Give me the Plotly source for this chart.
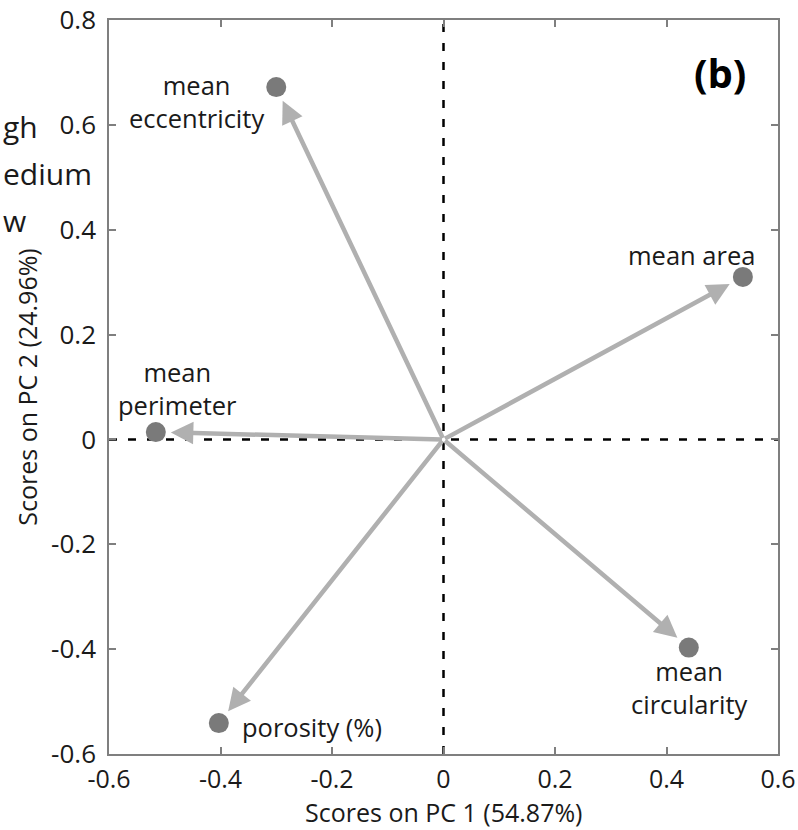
import plotly.graph_objects as go

# Loadings
variables = ["mean eccentricity", "mean area", "mean perimeter", "porosity (%)", "mean circularity"]
labels = ["mean<br>eccentricity", "mean area", "mean<br>perimeter", "porosity (%)", "mean<br>circularity"]
pc1 = [-0.300, 0.537, -0.516, -0.403, 0.440]
pc2 = [0.672, 0.310, 0.014, -0.541, -0.397]

x_ticks = [-0.6, -0.4, -0.2, 0, 0.2, 0.4, 0.6]
x_ticktext = ["-0.6", "-0.4", "-0.2", "0", "0.2", "0.4", "0.6"]
y_ticks = [-0.6, -0.4, -0.2, 0, 0.2, 0.4, 0.6, 0.8]
y_ticktext = ["-0.6", "-0.4", "-0.2", "0", "0.2", "0.4", "0.6", "0.8"]

x_title = "Scores on PC 1 (54.87%)"
y_title = "Scores on PC 2 (24.96%)"
cut_legend = ["gh", "edium", "w"]  # partially visible legend of neighbouring panel

FONT = "Open Sans"
TXT = "#1a1a1a"
AX = "#7f7f7f"
W, H = 798, 830
ML, MR, MT, MB = 109, 20, 20, 76
pw, ph = W - ML - MR, H - MT - MB

fig = go.Figure()

fig.add_hline(y=0, line=dict(color="black", width=2.5, dash="8px,11px"), layer="below")
fig.add_vline(x=0, line=dict(color="black", width=2.5, dash="8px,11px"), layer="below")

fig.add_trace(go.Scatter(
    x=pc1, y=pc2, mode="markers",
    marker=dict(size=20, color="#7a7a7a", line=dict(width=0)),
    hovertext=variables, showlegend=False,
))

# arrows from origin
for x, y in zip(pc1, pc2):
    fig.add_annotation(x=x, y=y, ax=0, ay=0, xref="x", yref="y", axref="x", ayref="y",
                       text="", showarrow=True, arrowhead=2, arrowsize=1.0,
                       arrowwidth=4.5, arrowcolor="#b0b0b0", standoff=15)

# labels: (xanchor, yanchor, xshift, yshift)
label_pos = [
    ("center", "middle", -80, -14),
    ("center", "middle", -51, 22),
    ("center", "middle", 22, 44),
    ("left", "middle", 21, -4),
    ("center", "middle", 0, -40),
]
for x, y, t, (xa, ya, xs, ys) in zip(pc1, pc2, labels, label_pos):
    fig.add_annotation(x=x, y=y, xref="x", yref="y", text=t, showarrow=False,
                       xanchor=xa, yanchor=ya, xshift=xs, yshift=ys, align="center",
                       font=dict(family=FONT, size=25.5, color=TXT))

fig.add_annotation(x=(720 - ML) / pw, y=(H - MB - 72) / ph, xref="paper", yref="paper",
                   xanchor="center", yanchor="middle",
                   text="<b>(b)</b>", showarrow=False,
                   font=dict(family=FONT, size=40, color="black"))

# x axis title
fig.add_annotation(x=0.5, y=-(812 - (H - MB)) / ph, xref="paper", yref="paper",
                   xanchor="center", yanchor="middle", text=x_title, showarrow=False,
                   font=dict(family=FONT, size=25, color=TXT))

# partially visible legend text at the far left
for txt, py in zip(cut_legend, [127, 173, 220]):
    fig.add_annotation(x=(1 - ML) / pw, y=(H - MB - py) / ph, xref="paper", yref="paper",
                       text=txt, showarrow=False, xanchor="left", yanchor="middle",
                       font=dict(family=FONT, size=30, color=TXT))

fig.update_layout(
    width=W, height=H,
    margin=dict(l=ML, r=MR, t=MT, b=MB, autoexpand=False),
    plot_bgcolor="white", paper_bgcolor="white",
    font=dict(family=FONT, size=22, color=TXT),
    xaxis=dict(range=[-0.6, 0.6], tickvals=x_ticks, ticktext=x_ticktext,
               showgrid=False, zeroline=False, showline=True, linecolor=AX, linewidth=1.5,
               mirror="ticks", ticks="inside", ticklen=7, tickcolor=AX, tickwidth=1.5,
               ticklabelstandoff=2, automargin=False,
               tickfont=dict(family=FONT, size=25, color=TXT)),
    yaxis=dict(range=[-0.6, 0.8], tickvals=y_ticks, ticktext=y_ticktext,
               showgrid=False, zeroline=False, showline=True, linecolor=AX, linewidth=1.5,
               mirror="ticks", ticks="inside", ticklen=7, tickcolor=AX, tickwidth=1.5,
               ticklabelstandoff=6, automargin=False,
               tickfont=dict(family=FONT, size=26, color=TXT),
               title=dict(text=y_title, font=dict(family=FONT, size=25, color=TXT), standoff=6)),
)

fig.write_html("out.html", config={"displayModeBar": False},
               post_script="document.body.style.margin='0';document.body.style.overflow='hidden';")
